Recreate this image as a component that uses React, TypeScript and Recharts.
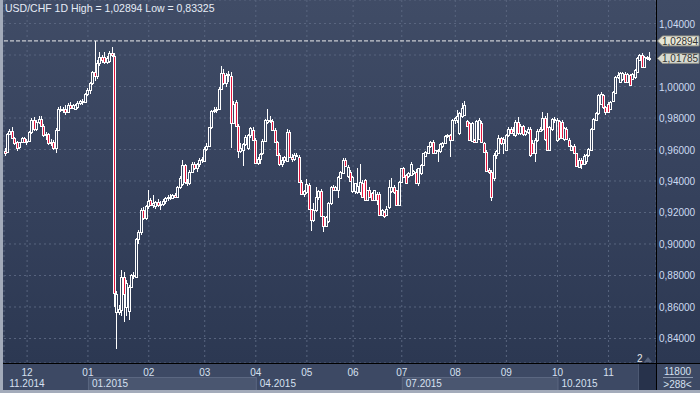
import React from 'react';
import { ComposedChart, Bar, XAxis, YAxis, CartesianGrid, ReferenceLine } from 'recharts';

type C = [number, number, number, number]; // open, high, low, close

const NOV14: C[] = [
  [.9590, .9610, .9557, .9580], [.9585, .9705, .9575, .9700], [.9700, .9730, .9690, .9715],
  [.9720, .9740, .9665, .9670], [.9670, .9680, .9630, .9640], [.9645, .9655, .9590, .9610],
  [.9615, .9650, .9605, .9645], [.9645, .9680, .9640, .9670], [.9670, .9680, .9640, .9650],
];
const DEC14: C[] = [
  [.9650, .9665, .9630, .9655], [.9655, .9720, .9645, .9710], [.9710, .9800, .9700, .9790],
  [.9790, .9805, .9720, .9730], [.9730, .9790, .9715, .9775], [.9775, .9812, .9760, .9795],
  [.9795, .9810, .9740, .9750], [.9750, .9760, .9680, .9690], [.9690, .9710, .9660, .9700],
  [.9700, .9705, .9630, .9640], [.9640, .9665, .9620, .9650], [.9650, .9660, .9600, .9610],
  [.9610, .9735, .9575, .9725], [.9725, .9870, .9715, .9860], [.9860, .9875, .9835, .9850],
  [.9850, .9870, .9830, .9860], [.9860, .9880, .9822, .9840], [.9840, .9895, .9835, .9885],
  [.9885, .9900, .9860, .9865], [.9865, .9890, .9855, .9880], [.9855, .9892, .9850, .9885],
  [.9870, .9905, .9860, .9895], [.9895, .9915, .9880, .9905], [.9905, .9920, .9885, .9900],
  [.9900, .9960, .9895, .9950],
];
const JAN15: C[] = [
  [.9950, .9990, .9940, .9980], [.9980, 1.0030, .9950, 1.0020], [1.0025, 1.0100, 1.0010, 1.0090],
  [1.0095, 1.02894, 1.0036, 1.0068], [1.0068, 1.0170, 1.0050, 1.0150], [1.0150, 1.0220, 1.0130, 1.0185],
  [1.0185, 1.0200, 1.0150, 1.0170], [1.0185, 1.0220, 1.0145, 1.0155], [1.0155, 1.0195, 1.0140, 1.0180],
  [1.0160, 1.0228, 1.0150, 1.0215], [1.0215, 1.0250, 1.0190, 1.0200], [1.0195, 1.0215, .8600, .8690],
  [.8568, .8700, .83325, .8684], [.8570, .8610, .8550, .8585], [.8580, .8836, .8540, .8790],
  [.8790, .8820, .8505, .8685], [.8600, .8770, .8540, .8750], [.8575, .8740, .8520, .8730],
  [.8730, .8810, .8720, .8800], [.8800, .8820, .8780, .8795], [.8790, .9040, .8785, .9030],
  [.9030, .9090, .9000, .9075], [.9075, .9230, .9060, .9215], [.9215, .9235, .9150, .9165],
  [.9165, .9250, .9155, .9240],
];
const FEB15: C[] = [
  [.9240, .9345, .9225, .9275], [.9280, .9290, .9240, .9250], [.9250, .9310, .9230, .9260],
  [.9240, .9275, .9220, .9265], [.9265, .9285, .9235, .9245], [.9245, .9270, .9215, .9255],
  [.9255, .9285, .9240, .9270], [.9270, .9300, .9255, .9290], [.9290, .9310, .9275, .9300],
  [.9300, .9320, .9280, .9295], [.9295, .9320, .9285, .9310], [.9310, .9325, .9290, .9300],
  [.9300, .9370, .9295, .9362], [.9362, .9430, .9350, .9420], [.9380, .9533, .9370, .9500],
  [.9500, .9510, .9380, .9395], [.9395, .9410, .9370, .9385], [.9385, .9470, .9375, .9460],
  [.9460, .9520, .9450, .9510], [.9510, .9520, .9470, .9485], [.9485, .9515, .9460, .9505],
  [.9505, .9545, .9490, .9535], [.9535, .9555, .9515, .9540],
];
const MAR15: C[] = [
  [.9530, .9615, .9520, .9605], [.9605, .9640, .9590, .9625], [.9625, .9745, .9615, .9740],
  [.9740, .9850, .9730, .9845], [.9845, .9870, .9830, .9850], [.9850, .9870, .9830, .9860],
  [.9860, .9995, .9850, .9985], [.9985, 1.0127, .9975, 1.0085], [1.0085, 1.0110, 1.0010, 1.0025],
  [1.0025, 1.0085, 1.0000, 1.0075], [1.0070, 1.0100, 1.0030, 1.0080], [1.0064, 1.0090, .9610, .9767],
  [.9770, .9905, .9760, .9890], [.9900, .9915, .9740, .9750], [.9750, .9760, .9545, .9590],
  [.9590, .9640, .9580, .9610], [.9600, .9640, .9495, .9635], [.9635, .9690, .9620, .9680],
  [.9610, .9700, .9600, .9690], [.9690, .9740, .9670, .9735], [.9725, .9745, .9655, .9660],
];
const APR15: C[] = [
  [.9660, .9670, .9505, .9512], [.9512, .9555, .9500, .9540], [.9540, .9580, .9510, .9570],
  [.9575, .9665, .9565, .9655], [.9655, .9795, .9650, .9785], [.9772, .9860, .9760, .9788],
  [.9790, .9810, .9770, .9780], [.9780, .9795, .9720, .9725], [.9725, .9735, .9640, .9645],
  [.9645, .9655, .9560, .9565], [.9565, .9580, .9495, .9505], [.9505, .9550, .9490, .9535],
  [.9535, .9560, .9515, .9550], [.9530, .9730, .9520, .9713], [.9713, .9725, .9545, .9555],
  [.9555, .9570, .9520, .9540], [.9540, .9575, .9525, .9565], [.9565, .9580, .9550, .9560],
  [.9555, .9565, .9390, .9395], [.9395, .9405, .9315, .9320], [.9320, .9345, .9300, .9335],
];
const MAY15: C[] = [
  [.9330, .9410, .9320, .9380], [.9375, .9385, .9215, .9220], [.9220, .9225, .9080, .9150],
  [.9150, .9260, .9140, .9215], [.9215, .9363, .9200, .9300], [.9300, .9345, .9280, .9335],
  [.9335, .9350, .9170, .9175], [.9175, .9180, .9075, .9115], [.9115, .9180, .9105, .9170],
  [.9145, .9265, .9135, .9258], [.9258, .9370, .9250, .9364], [.9364, .9375, .9335, .9345],
  [.9345, .9370, .9340, .9362], [.9345, .9430, .9290, .9425], [.9420, .9465, .9410, .9460],
  [.9450, .9545, .9445, .9535], [.9535, .9545, .9490, .9495], [.9430, .9500, .9420, .9490],
  [.9460, .9470, .9395, .9400],
];
const JUN15: C[] = [
  [.9335, .9430, .9325, .9425], [.9335, .9390, .9320, .9385], [.9330, .9481, .9320, .9370],
  [.9330, .9505, .9310, .9395], [.9385, .9405, .9295, .9300], [.9406, .9415, .9270, .9279],
  [.9280, .9345, .9270, .9340], [.9340, .9360, .9295, .9300], [.9321, .9330, .9270, .9280],
  [.9280, .9345, .9270, .9340], [.9320, .9330, .9245, .9280], [.9320, .9330, .9180, .9185],
  [.9185, .9225, .9175, .9215], [.9205, .9210, .9162, .9175], [.9185, .9240, .9175, .9225],
  [.9236, .9406, .9225, .9364], [.9335, .9417, .9325, .9365], [.9365, .9375, .9320, .9330],
  [.9340, .9345, .9240, .9247], [.9247, .9400, .9240, .9395],
];
const JUL15: C[] = [
  [.9395, .9485, .9385, .9480], [.9480, .9490, .9420, .9425], [.9438, .9445, .9380, .9385],
  [.9430, .9455, .9420, .9450], [.9440, .9520, .9430, .9510], [.9450, .9470, .9440, .9465],
  [.9460, .9475, .9380, .9385], [.9385, .9485, .9370, .9480], [.9450, .9510, .9440, .9502],
  [.9502, .9580, .9495, .9577], [.9560, .9590, .9550, .9585], [.9577, .9625, .9570, .9620],
  [.9620, .9655, .9610, .9650], [.9650, .9660, .9570, .9577], [.9577, .9600, .9570, .9595],
  [.9595, .9605, .9523, .9590], [.9590, .9640, .9580, .9635], [.9620, .9650, .9610, .9640],
  [.9640, .9690, .9635, .9683], [.9683, .9700, .9670, .9690], [.9694, .9700, .9555, .9662],
  [.9662, .9795, .9655, .9790],
];
const AUG15: C[] = [
  [.9790, .9805, .9765, .9800], [.9790, .9853, .9770, .9810], [.9705, .9840, .9695, .9832],
  [.9810, .9896, .9800, .9864], [.9820, .9906, .9810, .9880], [.9780, .9790, .9740, .9747],
  [.9768, .9775, .9655, .9662], [.9655, .9775, .9650, .9768], [.9660, .9665, .9640, .9650],
  [.9650, .9790, .9645, .9780], [.9665, .9800, .9660, .9790], [.9770, .9780, .9640, .9650],
  [.9640, .9650, .9585, .9587], [.9587, .9595, .9460, .9465], [.9470, .9480, .9445, .9460],
  [.9460, .9470, .9270, .9300], [.9420, .9580, .9400, .9565], [.9565, .9600, .9540, .9590],
  [.9580, .9690, .9570, .9670], [.9670, .9680, .9630, .9640], [.9640, .9680, .9570, .9665],
];
const SEP15: C[] = [
  [.9600, .9700, .9590, .9690], [.9690, .9740, .9680, .9730], [.9730, .9745, .9700, .9705],
  [.9705, .9740, .9685, .9720], [.9690, .9790, .9680, .9775], [.9775, .9808, .9695, .9705],
  [.9705, .9760, .9695, .9750], [.9750, .9755, .9685, .9700], [.9700, .9725, .9685, .9715],
  [.9710, .9745, .9700, .9730], [.9730, .9740, .9555, .9565], [.9640, .9660, .9570, .9580],
  [.9575, .9670, .9522, .9660], [.9660, .9730, .9650, .9720], [.9720, .9740, .9710, .9730],
  [.9730, .9840, .9720, .9800], [.9800, .9810, .9655, .9665], [.9745, .9830, .9590, .9600],
  [.9600, .9750, .9590, .9745], [.9730, .9800, .9720, .9795], [.9795, .9805, .9770, .9785],
];
const OCT15: C[] = [
  [.9660, .9800, .9650, .9790], [.9780, .9790, .9660, .9670], [.9775, .9790, .9665, .9670],
  [.9665, .9740, .9655, .9735], [.9730, .9740, .9660, .9665], [.9660, .9670, .9615, .9620],
  [.9600, .9630, .9590, .9625], [.9625, .9635, .9570, .9575], [.9575, .9580, .9490, .9495],
  [.9490, .9545, .9480, .9535], [.9535, .9545, .9478, .9510], [.9510, .9570, .9500, .9560],
  [.9530, .9570, .9510, .9565], [.9565, .9610, .9555, .9605], [.9600, .9735, .9590, .9730],
  [.9730, .9800, .9725, .9795], [.9790, .9835, .9780, .9830], [.9830, .9950, .9820, .9945],
  [.9890, .9965, .9885, .9955], [.9945, .9955, .9860, .9870], [.9870, .9875, .9818, .9835],
];
const NOV15: C[] = [
  [.9890, .9900, .9835, .9840], [.9860, .9910, .9850, .9900], [.9910, .9970, .9905, .9965],
  [.9960, 1.0065, .9955, 1.0060], [1.0060, 1.0090, 1.0045, 1.0075], [1.0030, 1.0090, 1.0020, 1.0083],
  [1.0045, 1.0095, 1.0035, 1.0085], [1.0080, 1.0090, 1.0020, 1.0030], [1.0030, 1.0085, 1.0020, 1.0080],
  [1.0075, 1.0080, 1.0005, 1.0010], [1.0050, 1.0085, 1.0040, 1.0080], [1.0060, 1.0110, 1.0050, 1.0105],
  [1.0095, 1.0185, 1.0090, 1.0180], [1.0170, 1.0205, 1.0160, 1.0200], [1.0200, 1.0210, 1.0120, 1.0126],
  [1.0126, 1.0195, 1.0120, 1.0190], [1.0185, 1.0195, 1.0170, 1.0190], [1.0175, 1.0222, 1.0165, 1.01785],
];

const MONTH_SERIES: C[][] = [NOV14, DEC14, JAN15, FEB15, MAR15, APR15, MAY15, JUN15, JUL15, AUG15, SEP15, OCT15, NOV15];
const MONTH_LABELS = ['11', '12', '01', '02', '03', '04', '05', '06', '07', '08', '09', '10', '11'];
const QUARTER_LABELS: { month: number; label: string; boxed: boolean }[] = [
  { month: 0, label: '11.2014', boxed: false },
  { month: 2, label: '01.2015', boxed: true },
  { month: 5, label: '04.2015', boxed: false },
  { month: 8, label: '07.2015', boxed: true },
  { month: 11, label: '10.2015', boxed: false },
];
const Y_TICKS = [0.84, 0.86, 0.88, 0.9, 0.92, 0.94, 0.96, 0.98, 1.0, 1.02, 1.04];
const SYMBOL = 'USD/CHF 1D';
const SESSION_HIGH = 1.02894;
const SESSION_LOW = 0.83325;
const LAST_PRICE = 1.01785;
const EMPTY_SLOTS = 2;

const W = 700;
const H = 393;
const PLOT_L = 4;
const PLOT_R = 656;
const PLOT_B = 363;
const Y_DOMAIN: [number, number] = [0.824444, 1.054921];
const FONT = '"Liberation Sans", Arial, sans-serif';
const AX_FS = 10;

const rows: any[] = [];
const monthStart: number[] = [];
MONTH_SERIES.forEach((arr) => {
  monthStart.push(rows.length);
  arr.forEach(([o, h, l, c]) => rows.push({ i: rows.length, o, h, l, c, range: [l, h] }));
});
for (let k = 0; k < EMPTY_SLOTS; k++) rows.push({ i: rows.length, range: null });
const SLOTS = rows.length;
const BAND = (PLOT_R - PLOT_L) / SLOTS;
const X_TICKS = monthStart.slice(1);
const PX_PER_UNIT = PLOT_B / (Y_DOMAIN[1] - Y_DOMAIN[0]);

const fmt = (v: number) => v.toFixed(5).replace('.', ',');

const Candle = (props: any) => {
  const { x, y, width, height, payload } = props;
  if (!payload || payload.o == null || height == null) return <g />;
  const { o, h, l, c } = payload;
  const ratio = h > l ? height / (h - l) : 0;
  const py = (v: number) => y + (h - v) * ratio;
  const cx = Math.round(x + width / 2 - 0.5);
  const yHigh = Math.round(py(h));
  const yLow = Math.round(py(l));
  const top = Math.round(py(Math.max(o, c)));
  let bot = Math.round(py(Math.min(o, c)));
  if (bot - top < 1) bot = top + 1;
  const bear = c < o;
  return (
    <g>
      {top > yHigh && <line x1={cx + 0.5} x2={cx + 0.5} y1={yHigh} y2={top} stroke="#ffffff" strokeWidth={1} />}
      {yLow > bot && <line x1={cx + 0.5} x2={cx + 0.5} y1={bot} y2={yLow} stroke="#ffffff" strokeWidth={1} />}
      <rect x={cx - 0.5} y={top + 0.5} width={2} height={bot - top} fill={bear ? '#e3163e' : 'none'} stroke="#ffffff" strokeWidth={1} />
    </g>
  );
};

const XTick = (props: any) => {
  const { x, payload } = props;
  const m = monthStart.indexOf(payload.value);
  if (m < 0) return <g />;
  const items: React.ReactNode[] = [];
  QUARTER_LABELS.forEach((q, qi) => {
    let qx: number | null = null;
    if (q.month === m) qx = x;
    if (q.month === 0 && m === 1) qx = x - (monthStart[1] - monthStart[0]) * BAND;
    if (qx == null) return;
    const next = QUARTER_LABELS[qi + 1];
    if (q.boxed && next) {
      const w = (monthStart[next.month] - monthStart[q.month]) * BAND;
      items.push(<rect key={'b' + qi} x={qx + 0.5} y={377.5} width={w} height={13} fill="#4a5670" stroke="#5b6781" strokeWidth={1} />);
    }
    items.push(
      <text key={'q' + qi} x={qx + 4} y={387} fill="#d6e0f0" fontSize={AX_FS} fontFamily={FONT}>{q.label}</text>
    );
  });
  return (
    <g>
      {items}
      <text x={x} y={375.5} textAnchor="middle" fill="#d6e0f0" fontSize={AX_FS} fontFamily={FONT}>{MONTH_LABELS[m]}</text>
    </g>
  );
};

const YTick = (props: any) => {
  const { y, payload } = props;
  // the last-price tag covers any label sitting right under it
  const tagY = (Y_DOMAIN[1] - LAST_PRICE) * PX_PER_UNIT;
  if (Math.abs(y - tagY) < 9) return <g />;
  return (
    <text x={659} y={y + 4} fill="#cddbf2" fontSize={AX_FS} fontFamily={FONT}>{fmt(payload.value)}</text>
  );
};

const PriceTag = (fill: string, value: number) => (props: any) => {
  const vb = props.viewBox || {};
  const y = vb.y;
  if (y == null) return null;
  const x0 = PLOT_R + 1.5;
  return (
    <g>
      <polygon
        points={`${x0},${y} ${x0 + 5},${y - 5} ${W - 1},${y - 5} ${W - 1},${y + 5} ${x0 + 5},${y + 5}`}
        fill={fill}
        stroke="#8e8e86"
        strokeWidth={1}
      />
      <text x={662} y={y + 3.8} fill="#333333" fontSize={AX_FS} fontFamily={FONT}>{fmt(value)}</text>
    </g>
  );
};

export default function App() {
  return (
    <div style={{ position: 'absolute', left: 0, top: 0, width: W, height: H, overflow: 'hidden' }}>
      <div
        style={{
          position: 'absolute', left: 0, top: 0, width: W, height: PLOT_B,
          background: 'linear-gradient(to bottom, #404c66 0%, #36425d 50%, #2c3852 100%)',
        }}
      />
      <div style={{ position: 'absolute', left: 0, top: PLOT_B, width: W, height: H - PLOT_B, background: '#3d4964' }} />
      <div style={{ position: 'absolute', left: 0, top: 0 }}>
        <ComposedChart
          width={W}
          height={H}
          data={rows}
          margin={{ top: 0, right: 0, bottom: 0, left: PLOT_L }}
          barCategoryGap={0}
          barGap={0}
        >
          <CartesianGrid stroke="#59657f" strokeDasharray="2 3" />
          <XAxis
            dataKey="i"
            type="category"
            ticks={X_TICKS}
            interval={0}
            tick={XTick}
            tickLine={false}
            axisLine={false}
            height={H - PLOT_B}
          />
          <YAxis
            orientation="right"
            type="number"
            domain={Y_DOMAIN}
            ticks={Y_TICKS}
            allowDataOverflow
            tick={YTick}
            tickLine={false}
            axisLine={false}
            width={W - PLOT_R}
          />
          <Bar dataKey="range" shape={Candle} isAnimationActive={false} />
          <ReferenceLine
            y={SESSION_HIGH}
            stroke="#ececec"
            strokeDasharray="4 2"
            label={PriceTag('#e6e6d6', SESSION_HIGH)}
          />
          <ReferenceLine y={LAST_PRICE} stroke="none" strokeOpacity={0} label={PriceTag('#d8dbd2', LAST_PRICE)} />
        </ComposedChart>
      </div>
      <svg width={W} height={H} style={{ position: 'absolute', left: 0, top: 0, pointerEvents: 'none' }}>
        <text x={5} y={11.5} fill="#e6ecf6" fontSize={10.5} fontFamily={FONT}>
          {`${SYMBOL} High = ${fmt(SESSION_HIGH)} Low = ${fmt(SESSION_LOW)}`}
        </text>
        <rect x={638} y={364} width={18} height={26} fill="#27324b" />
        <line x1={638.5} y1={364} x2={638.5} y2={390} stroke="#4d5973" />
        <text x={637} y={362} fill="#e8e8e8" fontSize={AX_FS} fontFamily={FONT}>2</text>
        <polygon points="644,362 648,357 652,362" fill="#56627c" />
        <line x1={0} y1={PLOT_B + 0.5} x2={W} y2={PLOT_B + 0.5} stroke="#000000" strokeWidth={1} />
        <line x1={PLOT_R + 0.5} y1={0} x2={PLOT_R + 0.5} y2={390} stroke="#000000" strokeWidth={1} />
        <text x={677.5} y={374.5} textAnchor="middle" fill="#d6e0f0" fontSize={AX_FS} fontFamily={FONT}>11800</text>
        <line x1={663} y1={377.5} x2={693} y2={377.5} stroke="#8a96ac" strokeWidth={1} />
        <text x={677.5} y={388} textAnchor="middle" fill="#d6e0f0" fontSize={AX_FS} fontFamily={FONT}>{'>288<'}</text>
        <rect x={0} y={0} width={3} height={H} fill="#a3abba" />
        <rect x={0} y={390} width={W} height={3} fill="#a3abba" />
      </svg>
    </div>
  );
}
